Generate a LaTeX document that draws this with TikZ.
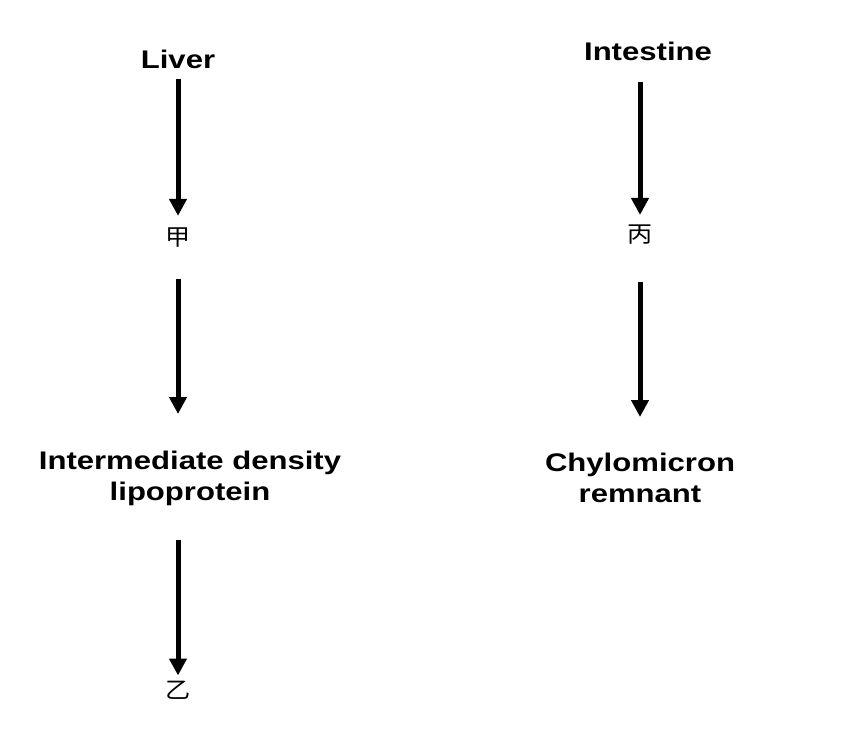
\documentclass[tikz,border=0pt]{standalone}
\usepackage{fontspec}
\usepackage{tikz}
\usetikzlibrary{arrows.meta}
\newfontfamily\termfont{Liberation Sans}[FakeStretch=1.22]
\newfontfamily\cjkfont{Noto Sans CJK SC}[FakeStretch=1.1]

\begin{document}
\begin{tikzpicture}[x=0.02cm, y=-0.02cm,
    term/.style={inner sep=0pt, align=center, font=\termfont\bfseries\fontsize{14.5pt}{17.6pt}\selectfont},
    hanzi/.style={inner sep=0pt, font=\cjkfont\fontsize{13pt}{15pt}\selectfont},
    flow/.style={line width=0.1cm, -{Triangle[width=0.34cm, length=0.34cm]}}]
  \useasboundingbox[fill=white] (0,0) rectangle (841,743);
  % liver side
  \node[term, anchor=north] (liver) at (178,50) {Liver};
  \node[hanzi] (jia) at (178,238) {甲};
  \node[term, anchor=north] (idl) at (190,451) {Intermediate density\\lipoprotein};
  \node[hanzi] (yi) at (178,690) {乙};
  % intestine side
  \node[term, anchor=north] (intestine) at (648,42) {Intestine};
  \node[hanzi] (bing) at (640,235) {丙};
  \node[term, anchor=north] (chylo) at (640,453) {Chylomicron\\remnant};
  \draw[flow, shorten <=0.2cm, shorten >=0.24cm] (liver) -- (jia);
  \draw[flow, shorten <=0.62cm, shorten >=0.74cm] (jia) -- (jia |- idl.north);
  \draw[flow, shorten <=0.68cm, shorten >=0.1cm] (yi |- idl.south) -- (yi);
  \draw[flow, shorten <=0.42cm, shorten >=0.2cm] (intestine.south -| bing) -- (bing);
  \draw[flow, shorten <=0.74cm, shorten >=0.72cm] (bing) -- (bing |- chylo.north);
\end{tikzpicture}
\end{document}
